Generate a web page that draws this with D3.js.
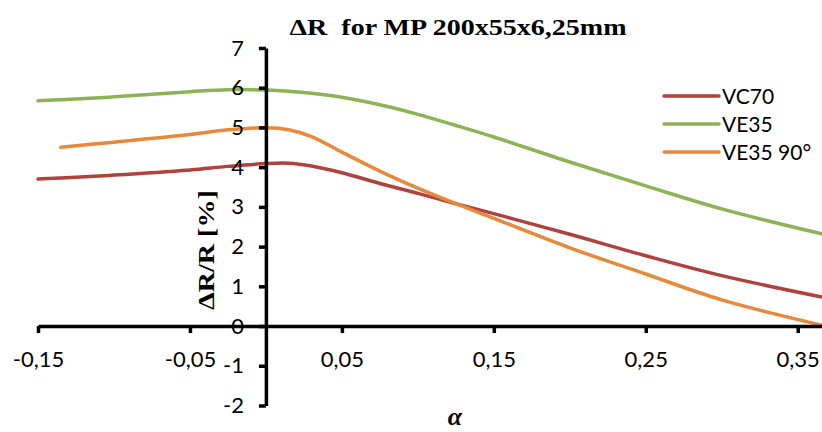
<!DOCTYPE html>
<html>
<head>
<meta charset="utf-8">
<script src="https://cdn.jsdelivr.net/npm/d3@7"></script>
<style>
  html, body { margin: 0; padding: 0; background: #fff; }
  svg { display: block; }
</style>
</head>
<body>
<svg id="chart" width="822" height="432"></svg>
<script>
// ---- data ----
const alpha   = [-0.15, -0.135, -0.1, -0.05, -0.025, 0, 0.015, 0.03, 0.05, 0.075, 0.1, 0.125, 0.15, 0.2, 0.25, 0.3, 0.366];
const VC70    = [3.70, 3.73, 3.80, 3.93, 4.02, 4.09, 4.10, 4.03, 3.86, 3.59, 3.34, 3.08, 2.83, 2.31, 1.77, 1.27, 0.73];
const VE35    = [5.67, 5.70, 5.77, 5.90, 5.95, 5.94, 5.91, 5.86, 5.76, 5.57, 5.33, 5.05, 4.76, 4.13, 3.53, 2.95, 2.32];
const VE35_90 = [null, 4.50, 4.63, 4.82, 4.94, 4.99, 4.94, 4.77, 4.38, 3.90, 3.47, 3.08, 2.71, 1.97, 1.31, 0.66, 0.02];
const seriesNames = ["VC70", "VE35", "VE35 90°"];
const seriesColors = ["#B0423E", "#8DB356", "#E8883A"];
const xTicks = [-0.15, -0.05, 0.05, 0.15, 0.25, 0.35];
const yTicks = [-2, -1, 0, 1, 2, 3, 4, 5, 6, 7];
const title = "ΔR  for MP 200x55x6,25mm";
const yTitle = "ΔR/R [%]";
const xTitle = "α";

// ---- drawing ----
const svg = d3.select("#chart");
const x = d3.scaleLinear().domain([-0.15, 0.366]).range([38, 822]);
const y = d3.scaleLinear().domain([-2, 7]).range([405.5, 48]);
const fmtX = v => d3.format(".2f")(v).replace("−", "-").replace(".", ",");
const fmtY = v => String(v);

// title
svg.append("text")
  .attr("x", 458).attr("y", 35)
  .attr("xml:space", "preserve")
  .style("white-space", "pre")
  .attr("text-anchor", "middle")
  .attr("font-family", "Liberation Serif, Times New Roman, serif")
  .attr("font-weight", "bold")
  .attr("font-size", 23)
  .attr("textLength", 337)
  .attr("lengthAdjust", "spacingAndGlyphs")
  .attr("fill", "#000")
  .text(title);

// y axis title
svg.append("text")
  .attr("transform", "translate(214,250) rotate(-90)")
  .attr("text-anchor", "middle")
  .attr("font-family", "Liberation Serif, Times New Roman, serif")
  .attr("font-weight", "bold")
  .attr("font-size", 24)
  .attr("textLength", 120)
  .attr("lengthAdjust", "spacingAndGlyphs")
  .attr("fill", "#000")
  .text(yTitle);

// x axis title
svg.append("text")
  .attr("x", 455).attr("y", 425)
  .attr("text-anchor", "middle")
  .attr("font-family", "Liberation Serif, Times New Roman, serif")
  .attr("font-weight", "bold")
  .attr("font-style", "italic")
  .attr("font-size", 26)
  .attr("fill", "#000")
  .text(xTitle);

// series lines
const series = [VC70, VE35, VE35_90];
const line = d3.line()
  .defined(d => d[1] !== null)
  .x(d => x(d[0])).y(d => y(d[1]))
  .curve(d3.curveCatmullRom.alpha(0.5));
series.forEach((vals, i) => {
  svg.append("path")
    .datum(alpha.map((a, j) => [a, vals[j]]))
    .attr("fill", "none")
    .attr("stroke", seriesColors[i])
    .attr("stroke-width", 3.5)
    .attr("stroke-linecap", "round")
    .attr("d", line);
});

// x axis at y=0
const xAxis = d3.axisBottom(x).tickValues(xTicks).tickSize(7).tickSizeOuter(0).tickFormat(fmtX);
const gx = svg.append("g").attr("transform", `translate(0,${y(0)})`).call(xAxis);
gx.select(".domain").attr("stroke", "#000").attr("stroke-width", 3.5);
gx.selectAll(".tick line").attr("stroke", "#000").attr("stroke-width", 3.5);
gx.selectAll(".tick text")
  .attr("font-family", "Lato, Carlito, Calibri, sans-serif")
  .attr("font-size", 22).attr("fill", "#000").attr("y", 25).attr("dy", "0.71em");

// y axis at x=0
const yAxis = d3.axisLeft(y).tickValues(yTicks).tickSize(7).tickSizeOuter(0).tickFormat(fmtY);
const gy = svg.append("g").attr("transform", `translate(${x(0)},0)`).call(yAxis);
gy.select(".domain").attr("stroke", "#000").attr("stroke-width", 3.5);
gy.selectAll(".tick line").attr("stroke", "#000").attr("stroke-width", 3.5);
gy.selectAll(".tick text")
  .attr("font-family", "Lato, Carlito, Calibri, sans-serif")
  .attr("font-size", 22).attr("fill", "#000").attr("x", -22);

// legend
const legend = svg.append("g").attr("transform", "translate(664,96)");
seriesNames.forEach((n, i) => {
  const g = legend.append("g").attr("transform", `translate(0,${i * 28})`);
  g.append("line").attr("x1", 0).attr("x2", 55).attr("y1", 0).attr("y2", 0)
    .attr("stroke", seriesColors[i]).attr("stroke-width", 3.5).attr("stroke-linecap", "round");
  g.append("text").attr("x", 58).attr("y", 0).attr("dy", "0.36em")
    .attr("font-family", "Lato, Carlito, Calibri, sans-serif")
    .attr("font-size", 21).attr("fill", "#000").text(n);
});
</script>
</body>
</html>
